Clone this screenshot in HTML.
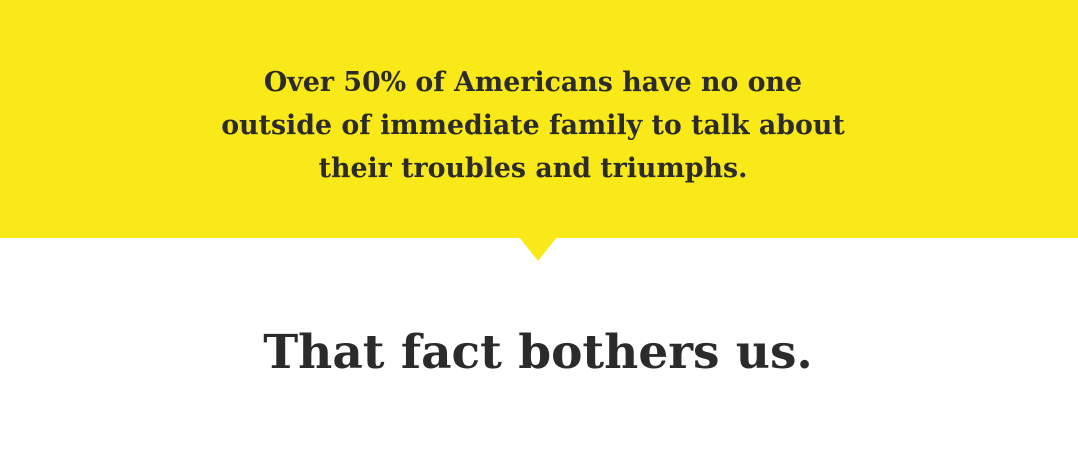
<!DOCTYPE html>
<html><head><meta charset="utf-8"><style>
html,body{margin:0;padding:0;width:1078px;height:452px;overflow:hidden;background:#fff;}
.band{position:absolute;left:0;top:0;width:1078px;height:238px;background:#f9e918;}
.tri{position:absolute;left:519px;top:237px;width:0;height:0;border-left:19px solid transparent;border-right:19px solid transparent;border-top:24px solid #f9e918;}
.q{position:absolute;left:0;width:1066px;text-align:center;font-family:"DejaVu Serif",serif;font-weight:bold;color:#2b2b2b;font-size:26.8px;line-height:43px;top:61px;}
.h{position:absolute;left:0;width:1076px;text-align:center;font-family:"DejaVu Serif",serif;font-weight:bold;color:#2b2b2b;font-size:47px;top:318px;line-height:70px;}
</style></head><body>
<div class="band"></div>
<div class="tri"></div>
<div class="q">Over 50% of Americans have no one<br>outside of immediate family to talk about<br>their troubles and triumphs.</div>
<div class="h">That fact bothers us.</div>
</body></html>
